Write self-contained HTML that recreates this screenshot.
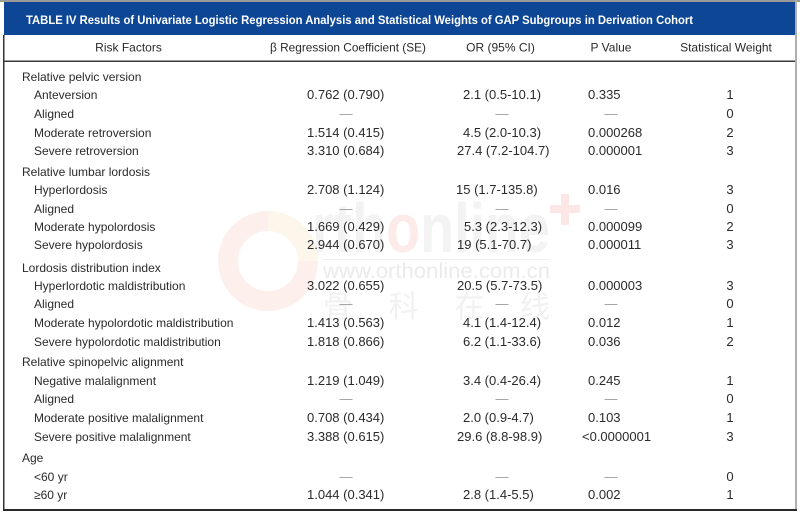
<!DOCTYPE html>
<html><head><meta charset="utf-8"><style>
html,body{margin:0;padding:0;background:#fff;}
svg{display:block;}
.t{font-family:"Liberation Sans",Arial,sans-serif;font-size:12px;fill:#2a2a2a;}
.n{font-family:"Liberation Sans",Arial,sans-serif;font-size:13px;fill:#2a2a2a;}
.d{font-family:"Liberation Sans",Arial,sans-serif;font-size:13px;fill:#999999;text-anchor:middle;}
.w{font-family:"Liberation Sans",Arial,sans-serif;font-size:13px;fill:#2a2a2a;text-anchor:middle;}
.h{font-family:"Liberation Sans",Arial,sans-serif;font-size:12px;fill:#2a2a2a;text-anchor:middle;}
</style></head><body>
<svg width="800" height="513" viewBox="0 0 800 513" xmlns="http://www.w3.org/2000/svg">
<rect x="0" y="0" width="800" height="513" fill="#fff"/>
<!-- watermark -->
<circle cx="268" cy="261" r="40" fill="none" stroke="#fcefec" stroke-width="20"/>
<path d="M 268 221 A 40 40 0 0 1 308 261" fill="none" stroke="#fdf6ea" stroke-width="20"/>
<text x="312" y="252" font-family="Liberation Sans, Arial, sans-serif" font-size="70" font-weight="bold" fill="#f3f3f3" textLength="238" lengthAdjust="spacingAndGlyphs">rth<tspan fill="#fcebe9">o</tspan>nline</text>
<rect x="550" y="205" width="30" height="8" fill="#fce6e6"/>
<rect x="561" y="194" width="8" height="31" fill="#fce6e6"/>
<rect x="323" y="259" width="227" height="1" fill="#f0f0f0"/>
<text x="323" y="278" font-family="Liberation Sans, Arial, sans-serif" font-size="21" fill="#ebebeb" textLength="227" lengthAdjust="spacingAndGlyphs">www.orthonline.com.cn</text>
<text x="323" y="317" font-family="Liberation Sans, 'Noto Sans CJK SC', sans-serif" font-size="30" fill="#f1f1f1" textLength="227" lengthAdjust="spacing">骨 科 在 线</text>

<!-- frame -->
<rect x="0" y="0" width="800" height="2" fill="#9a9a9a"/>
<rect x="4" y="2" width="791" height="33" fill="#0c4694"/>
<rect x="3" y="35" width="1.5" height="476" fill="#333"/>
<rect x="795" y="0" width="2" height="511" fill="#b0b0b0"/>
<rect x="3" y="60.5" width="792" height="1.5" fill="#3a3a3a"/>
<rect x="3" y="509" width="794" height="2" fill="#2a2a2a"/>

<text x="26" y="24" font-family="Liberation Sans, Arial, sans-serif" font-size="11.5" font-weight="bold" fill="#ffffff" textLength="667" lengthAdjust="spacingAndGlyphs">TABLE IV Results of Univariate Logistic Regression Analysis and Statistical Weights of GAP Subgroups in Derivation Cohort</text>

<!-- header -->
<text class="h" x="128.5" y="51.5">Risk Factors</text>
<text class="h" x="348" y="51.5" textLength="156" lengthAdjust="spacingAndGlyphs">β Regression Coefficient (SE)</text>
<text class="h" x="500.5" y="51.5">OR (95% CI)</text>
<text class="h" x="611" y="51.5">P Value</text>
<text class="h" x="726" y="51.5">Statistical Weight</text>

<!-- Relative pelvic version -->
<text class="t" x="22" y="81">Relative pelvic version</text>
<text class="t" x="34" y="99">Anteversion</text>
<text class="n" x="307" y="99">0.762 (0.790)</text>
<text class="n" x="463" y="99">2.1 (0.5-10.1)</text>
<text class="n" x="588" y="99">0.335</text>
<text class="w" x="730" y="99">1</text>

<text class="t" x="34" y="118">Aligned</text>
<text class="d" x="346" y="118">—</text>
<text class="d" x="502" y="118">—</text>
<text class="d" x="611" y="118">—</text>
<text class="w" x="730" y="118">0</text>

<text class="t" x="34" y="137">Moderate retroversion</text>
<text class="n" x="307" y="137">1.514 (0.415)</text>
<text class="n" x="463" y="137">4.5 (2.0-10.3)</text>
<text class="n" x="588" y="137">0.000268</text>
<text class="w" x="730" y="137">2</text>

<text class="t" x="34" y="155">Severe retroversion</text>
<text class="n" x="307" y="155">3.310 (0.684)</text>
<text class="n" x="457" y="155">27.4 (7.2-104.7)</text>
<text class="n" x="588" y="155">0.000001</text>
<text class="w" x="730" y="155">3</text>

<!-- Relative lumbar lordosis -->
<text class="t" x="22" y="176">Relative lumbar lordosis</text>
<text class="t" x="34" y="194">Hyperlordosis</text>
<text class="n" x="307" y="194">2.708 (1.124)</text>
<text class="n" x="456" y="194">15 (1.7-135.8)</text>
<text class="n" x="588" y="194">0.016</text>
<text class="w" x="730" y="194">3</text>

<text class="t" x="34" y="213">Aligned</text>
<text class="d" x="346" y="213">—</text>
<text class="d" x="502" y="213">—</text>
<text class="d" x="611" y="213">—</text>
<text class="w" x="730" y="213">0</text>

<text class="t" x="34" y="231">Moderate hypolordosis</text>
<text class="n" x="307" y="231">1.669 (0.429)</text>
<text class="n" x="464" y="231">5.3 (2.3-12.3)</text>
<text class="n" x="588" y="231">0.000099</text>
<text class="w" x="730" y="231">2</text>

<text class="t" x="34" y="249">Severe hypolordosis</text>
<text class="n" x="307" y="249">2.944 (0.670)</text>
<text class="n" x="457" y="249">19 (5.1-70.7)</text>
<text class="n" x="588" y="249">0.000011</text>
<text class="w" x="730" y="249">3</text>

<!-- Lordosis distribution index -->
<text class="t" x="22" y="272">Lordosis distribution index</text>
<text class="t" x="34" y="290">Hyperlordotic maldistribution</text>
<text class="n" x="307" y="290">3.022 (0.655)</text>
<text class="n" x="457" y="290">20.5 (5.7-73.5)</text>
<text class="n" x="588" y="290">0.000003</text>
<text class="w" x="730" y="290">3</text>

<text class="t" x="34" y="308">Aligned</text>
<text class="d" x="346" y="308">—</text>
<text class="d" x="502" y="308">—</text>
<text class="d" x="611" y="308">—</text>
<text class="w" x="730" y="308">0</text>

<text class="t" x="34" y="327">Moderate hypolordotic maldistribution</text>
<text class="n" x="307" y="327">1.413 (0.563)</text>
<text class="n" x="463" y="327">4.1 (1.4-12.4)</text>
<text class="n" x="588" y="327">0.012</text>
<text class="w" x="730" y="327">1</text>

<text class="t" x="34" y="346">Severe hypolordotic maldistribution</text>
<text class="n" x="307" y="346">1.818 (0.866)</text>
<text class="n" x="463" y="346">6.2 (1.1-33.6)</text>
<text class="n" x="588" y="346">0.036</text>
<text class="w" x="730" y="346">2</text>

<!-- Relative spinopelvic alignment -->
<text class="t" x="22" y="366">Relative spinopelvic alignment</text>
<text class="t" x="34" y="385">Negative malalignment</text>
<text class="n" x="307" y="385">1.219 (1.049)</text>
<text class="n" x="463" y="385">3.4 (0.4-26.4)</text>
<text class="n" x="588" y="385">0.245</text>
<text class="w" x="730" y="385">1</text>

<text class="t" x="34" y="403">Aligned</text>
<text class="d" x="346" y="403">—</text>
<text class="d" x="502" y="403">—</text>
<text class="d" x="611" y="403">—</text>
<text class="w" x="730" y="403">0</text>

<text class="t" x="34" y="422">Moderate positive malalignment</text>
<text class="n" x="307" y="422">0.708 (0.434)</text>
<text class="n" x="463" y="422">2.0 (0.9-4.7)</text>
<text class="n" x="588" y="422">0.103</text>
<text class="w" x="730" y="422">1</text>

<text class="t" x="34" y="441">Severe positive malalignment</text>
<text class="n" x="307" y="441">3.388 (0.615)</text>
<text class="n" x="457" y="441">29.6 (8.8-98.9)</text>
<text class="n" x="582" y="441">&lt;0.0000001</text>
<text class="w" x="730" y="441">3</text>

<!-- Age -->
<text class="t" x="22" y="462">Age</text>
<text class="t" x="34" y="481">&lt;60 yr</text>
<text class="d" x="346" y="481">—</text>
<text class="d" x="502" y="481">—</text>
<text class="d" x="611" y="481">—</text>
<text class="w" x="730" y="481">0</text>

<text class="t" x="34" y="499">≥60 yr</text>
<text class="n" x="307" y="499">1.044 (0.341)</text>
<text class="n" x="463" y="499">2.8 (1.4-5.5)</text>
<text class="n" x="588" y="499">0.002</text>
<text class="w" x="730" y="499">1</text>
</svg>
</body></html>
